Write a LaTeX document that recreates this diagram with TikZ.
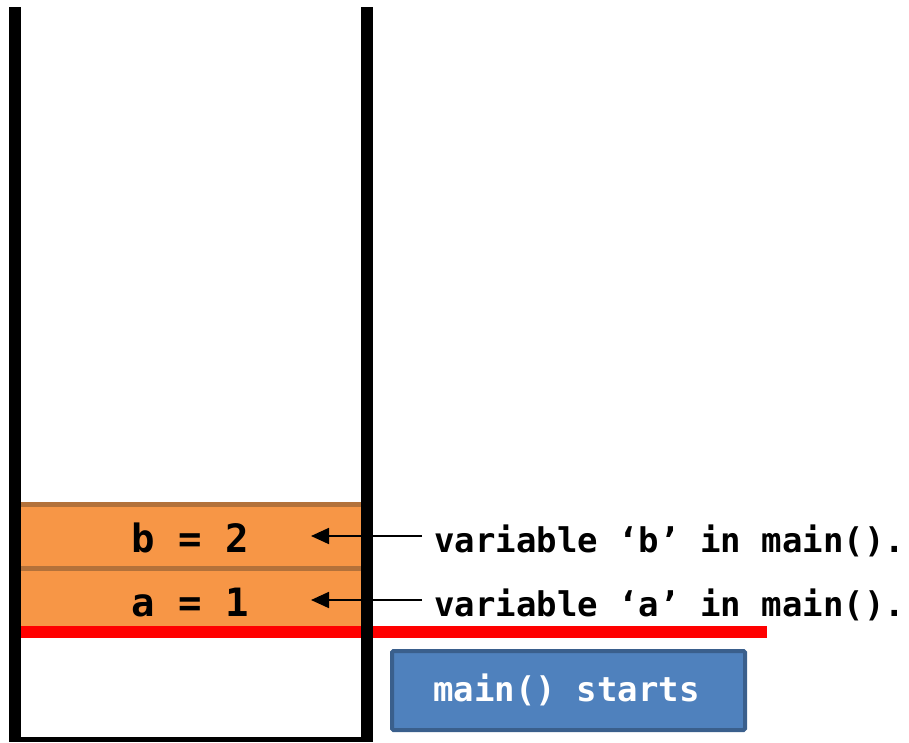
\documentclass[tikz,border=0pt]{standalone}
\usepackage{fontspec}
\usetikzlibrary{arrows.meta}
\newfontfamily\codefont{DejaVu Sans Mono}
\definecolor{cellfill}{HTML}{F79646}
\definecolor{cellrule}{HTML}{B3713A}
\definecolor{boxfill}{HTML}{4F81BD}
\definecolor{boxrule}{HTML}{3A5F8C}
\definecolor{redline}{HTML}{FF0000}
\tikzset{
  wall/.style={fill=black, draw=none},
  cell/.style={rectangle, fill=cellfill, draw=none, inner sep=0pt, anchor=north west},
  cellsep/.style={cellrule, line width=5pt},
  value/.style={font=\codefont\bfseries\fontsize{39}{44}\selectfont, anchor=base, inner sep=0pt},
  note/.style={font=\codefont\bfseries\fontsize{34}{40}\selectfont, anchor=base west, inner sep=0pt},
  pointer/.style={line width=1.8pt, -{Triangle[length=18pt,width=16pt]}},
  framebase/.style={draw=redline, line width=12pt},
  event/.style={rectangle, fill=boxfill, draw=boxrule, line width=4pt, rounded corners=1.5pt,
    minimum width=353pt, minimum height=79pt, anchor=north west, inner sep=0pt},
  eventtext/.style={font=\codefont\bfseries\fontsize{34}{40}\selectfont, text=white, anchor=base, inner sep=0pt},
}
\begin{document}
\begin{tikzpicture}[x=1pt, y=-1pt]
  \useasboundingbox (0,0) rectangle (909,743);

  % stack frame cells
  \node[cell, minimum width=340pt, minimum height=125pt] (frame) at (21,502) {};
  \draw[cellsep] (21,504.5) -- (361,504.5);
  \draw[cellsep] (21,568.5) -- (361,568.5);
  \node[value] (valb) at (190,552) {b = 2};
  \node[value] (vala) at (190,616) {a = 1};

  % frame base marker
  \coordinate (redl) at (21,632);
  \coordinate (redr) at (767,632);
  \draw[framebase] (redl) -- (redr);

  % pointers from the notes into the cells
  \coordinate (tailb) at (422,536);
  \coordinate (tipb) at (311,536);
  \coordinate (taila) at (422,600);
  \coordinate (tipa) at (311,600);
  \draw[pointer] (tailb) -- (tipb);
  \draw[pointer] (taila) -- (tipa);

  % stack walls
  \fill[wall] (9,7) rectangle (21,742);
  \fill[wall] (361,7) rectangle (373,742);
  \fill[wall] (9,737) rectangle (373,742);

  % notes
  \node[note] (noteb) at (434,552) {variable ‘b’ in main().};
  \node[note] (notea) at (434,616) {variable ‘a’ in main().};

  % event box
  \node[event] (start) at (390,649) {};
  \node[eventtext] (starttxt) at (566.5,701) {main() starts};
\end{tikzpicture}
\end{document}
